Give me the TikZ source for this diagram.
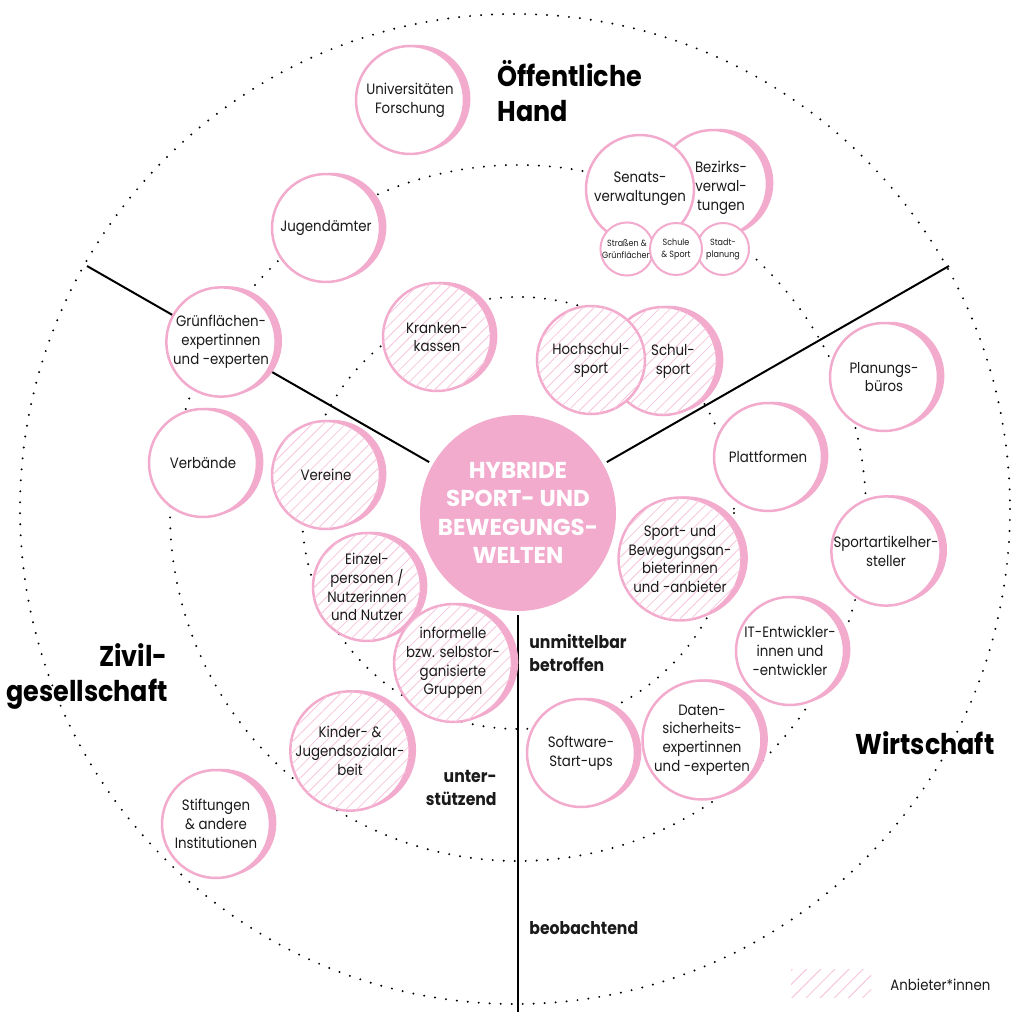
\documentclass[tikz,border=0pt]{standalone}
\usepackage{fontspec}
\setmainfont{Poppins}[FakeStretch=0.89]
\newfontfamily\hubfont{Poppins}
\usepackage{tikz}
\usetikzlibrary{shadows,patterns.meta,backgrounds}
\definecolor{pk}{HTML}{F2AACD}
\definecolor{pkl}{HTML}{F7C6DD}
\definecolor{ink}{HTML}{1A1A1A}

\begin{document}
\begin{tikzpicture}[x=0.5pt, y=-0.5pt,
    txt/.style={font=\fontsize{7.5}{9.4}\selectfont, align=center,
                text=ink, inner sep=0pt},
    bubble/.style={txt, circle, draw=pk, line width=1.25pt, fill=white,
                   minimum size=54pt},
    rim/.style={drop shadow={shadow xshift=3.2pt, shadow yshift=0.6pt,
                fill=pk, opacity=1}},
    hatched/.style={postaction={pattern={Lines[angle=45,distance=3.9pt,line width=0.4pt]},
                    pattern color=pkl}},
    smallbub/.style={circle, draw=pk, line width=1pt, fill=white,
                     minimum size=26pt, inner sep=0pt, align=center, text=ink,
                     font=\fontsize{4.5}{6}\selectfont},
    hub/.style={circle, fill=pk, minimum size=98pt, inner sep=0pt,
                align=center, text=white,
                font=\hubfont\bfseries\fontsize{11.5}{14.2}\selectfont},
    zonetitle/.style={font=\bfseries\fontsize{14.3}{17.5}\selectfont,
                      text=black, inner sep=0pt},
    ringtitle/.style={font=\bfseries\fontsize{8.8}{11.5}\selectfont,
                      text=ink, inner sep=0pt},
    ring/.style={line width=1.1pt, line cap=round, dash pattern=on 0pt off 5.5pt},
    divider/.style={line width=1pt, black, shorten <=2pt},
    keybox/.style={minimum width=40pt, minimum height=14pt, inner sep=0pt,
                   pattern={Lines[angle=45,distance=5pt,line width=0.5pt]},
                   pattern color=pkl}
]
\useasboundingbox (0,0) rectangle (1011,1012);

% ============================
% Centre
% ============================
\node[hub] (hub) at (518,513) {HYBRIDE\\SPORT- UND\\BEWEGUNGS-\\WELTEN};

% ============================
% Oeffentliche Hand
% ============================
\node[bubble, rim] (uni) at (410,100) {Universitäten\\Forschung};
\node[bubble, rim] (jugend) at (326,228) {Jugendämter};
\node[bubble, rim] (gruen) at (221,342) {Grünflächen-\\expertinnen\\und -experten};
\node[bubble, rim, hatched] (kasse) at (437,337) {Kranken-\\kassen};
\node[bubble, rim, hatched] (schul) at (663,361) {};
\node[txt] (schultxt) at (673,361) {Schul-\\sport};
\node[bubble, hatched] (hochschul) at (591,360) {Hochschul-\\sport};
\node[bubble, rim] (bezirk) at (713,184) {};
\node[txt] (bezirktxt) at (721,188) {Bezirks-\\verwal-\\tungen};
\node[bubble] (senat) at (640,189) {Senats-\\verwaltungen};
\node[smallbub] (strasse) at (627,249) {Straßen \&\\Grünflächen};
\node[smallbub] (stadt) at (723,249) {Stadt-\\planung};
\node[smallbub] (schule) at (676,249) {Schule\\\& Sport};

% ============================
% Wirtschaft
% ============================
\node[bubble, rim] (planung) at (884,377) {Planungs-\\büros};
\node[bubble, rim] (platt) at (768,457) {Plattformen};
\node[bubble, rim] (artikel) at (886,551) {Sportartikelher-\\steller};
\node[bubble, rim, hatched] (anbieter) at (680,559) {Sport- und\\Bewegungsan-\\bieterinnen\\und -anbieter};
\node[bubble, rim] (it) at (790,651) {IT-Entwickler-\\innen und\\-entwickler};
\node[bubble, rim] (daten) at (702,740) {Daten-\\sicherheits-\\expertinnen\\und -experten};
\node[bubble, rim] (startup) at (581,753) {Software-\\Start-ups};

% ============================
% Zivilgesellschaft
% ============================
\node[bubble, rim] (verb) at (203,463) {Verbände};
\node[bubble, rim, hatched] (vereine) at (326,475) {Vereine};
\node[bubble, rim, hatched] (einzel) at (367,587) {Einzel-\\personen /\\Nutzerinnen\\und Nutzer};
\node[bubble, rim, hatched] (informell) at (453,663) {informelle\\bzw. selbstor-\\ganisierte\\Gruppen};
\node[bubble, rim, hatched] (kinder) at (350,751) {Kinder- \&\\Jugendsozialar-\\beit};
\node[bubble, rim] (stiftung) at (216,824) {Stiftungen\\\& andere\\Institutionen};

% Titles
\node[zonetitle, anchor=west, align=left] (oeff) at (497,91) {Öffentliche\\Hand};
\node[zonetitle, anchor=east, align=right] (zivil) at (168,676) {Zivil-\\gesellschaft};
\node[zonetitle, anchor=base west] (wirt) at (855,754) {Wirtschaft};
\node[ringtitle, anchor=west, align=left] (direkt) at (529,653) {unmittelbar\\betroffen};
\node[ringtitle, anchor=east, align=right] (stuetz) at (497,788) {unter-\\stützend};
\node[ringtitle, anchor=base west] (beob) at (529,934) {beobachtend};

% Legend
\node[keybox] (key) at (831,983) {};
\node[txt, anchor=west] (keytxt) at (890,985) {Anbieter*innen};

% ============================
% Rings and dividers
% ============================
\coordinate (nw) at (87,266);
\coordinate (ne) at (949,266);
\coordinate (sb) at (518,1012);
\begin{scope}[on background layer]
    \draw[ring] (515,509) circle (495);
    \draw[ring] (518,513) circle (348);
    \draw[ring] (518,513) circle (216);
    \draw[divider] (hub) -- (nw);
    \draw[divider] (hub) -- (ne);
    \draw[divider] (hub) -- (sb);
\end{scope}

\end{tikzpicture}
\end{document}
